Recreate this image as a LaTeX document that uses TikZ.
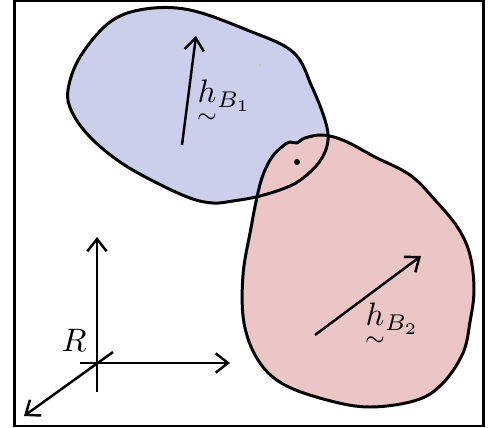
\documentclass[tikz,border=0pt]{standalone}
\usepackage{amsmath}
\usetikzlibrary{arrows.meta}
\definecolor{bodyblue}{RGB}{205,205,236}
\definecolor{bodyred}{RGB}{236,198,199}
\newcommand{\hvec}{{\underset{\sim}{h}}}
\begin{document}
\begin{tikzpicture}[x=0.02cm,y=-0.02cm,
  outline/.style={line width=1.7pt,line join=round},
  vec/.style={line width=1.4pt,-{Straight Barb[length=7pt,width=11pt]}},
  lbl/.style={scale=1.85,inner sep=0pt}]
\useasboundingbox (0,0) rectangle (494,427);
\draw[line width=1.3pt] (14.5,1) rectangle (483.5,426);
\fill[bodyblue] plot[smooth cycle,tension=0.6] coordinates {(68,90) (80,57) (110,22) (145,9) (190,10) (247,30) (293,52) (312,87) (325,120) (328,140) (322,158) (308,174) (290,186) (260,196) (233,201) (213,203) (190,198) (155,182) (120,162) (90,137) (72,112)};
\fill[bodyred] plot[smooth cycle,tension=0.6] coordinates {(283,146) (290,142) (297,143) (305,138) (323,135) (345,141) (375,157) (410,175) (435,200) (458,228) (470,255) (474,290) (470,322) (463,353) (443,383) (417,400) (370,407) (327,400) (283,384) (258,360) (244,323) (243,275) (251,228) (257,197) (263,175) (272,157)};
\draw[outline] plot[smooth cycle,tension=0.6] coordinates {(68,90) (80,57) (110,22) (145,9) (190,10) (247,30) (293,52) (312,87) (325,120) (328,140) (322,158) (308,174) (290,186) (260,196) (233,201) (213,203) (190,198) (155,182) (120,162) (90,137) (72,112)};
\draw[outline] plot[smooth cycle,tension=0.6] coordinates {(283,146) (290,142) (297,143) (305,138) (323,135) (345,141) (375,157) (410,175) (435,200) (458,228) (470,255) (474,290) (470,322) (463,353) (443,383) (417,400) (370,407) (327,400) (283,384) (258,360) (244,323) (243,275) (251,228) (257,197) (263,175) (272,157)};
\fill (297,162) circle (3);
\fill[gray!45] (260,65) circle (1.5);
\coordinate (tailone) at (182,145);
\coordinate (headone) at (196,36);
\draw[vec] (tailone) -- (headone);
\node[lbl] (lblone) at (224,103) {$\hvec{}_{B_1}$};
\coordinate (tailtwo) at (315,335);
\coordinate (headtwo) at (421,256);
\draw[vec] (tailtwo) -- (headtwo);
\node[lbl] (lbltwo) at (392,326) {$\hvec{}_{B_2}$};
\coordinate (orig) at (97,363);
\coordinate (zbot) at (97,392);
\coordinate (ztop) at (97,237);
\coordinate (xleft) at (80,363);
\coordinate (xright) at (230,363);
\coordinate (ybehind) at (113,352);
\coordinate (yfront) at (24,416);
\draw[vec] (zbot) -- (ztop);
\draw[vec] (xleft) -- (xright);
\draw[vec] (ybehind) -- (yfront);
\node[lbl] (lblR) at (74,340) {$R$};
\end{tikzpicture}
\end{document}
